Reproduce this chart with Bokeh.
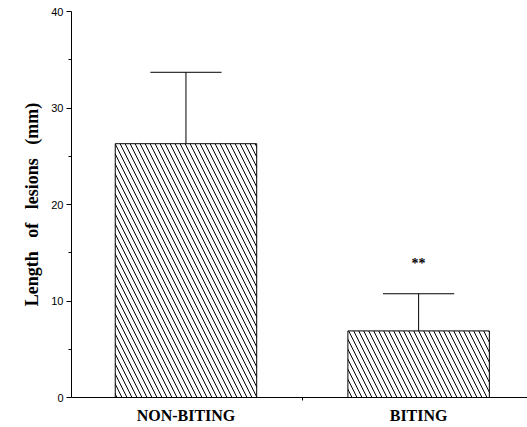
from bokeh.plotting import figure
from bokeh.models import FixedTicker, Range1d, ColumnDataSource
from bokeh.core.properties import value
from bokeh.embed import file_html
from bokeh.resources import INLINE

categories = ["NON-BITING", "BITING"]
means = [26.3, 6.9]
errors = [7.4, 3.85]
marks = ["", "**"]
mark_y = [None, 13.9]
y_ticks = [0, 10, 20, 30, 40]
y_minor = [5, 15, 25, 35]

xs = [1, 2]
src = ColumnDataSource(dict(x=xs, top=means, up=[m + e for m, e in zip(means, errors)]))

p = figure(width=527, height=427, output_backend="svg", toolbar_location=None,
           x_range=Range1d(0.508, 2.468), y_range=Range1d(0, 40),
           min_border_left=71, min_border_right=0, min_border_top=11, min_border_bottom=30)
p.background_fill_color = "white"
p.border_fill_color = "white"
p.outline_line_color = None
p.grid.visible = False

p.vbar(x="x", top="top", width=0.608, bottom=0, source=src,
       fill_color="white", line_color="black", line_width=1,
       hatch_pattern="\\", hatch_scale=10, hatch_weight=1, hatch_color="black")
p.segment(x0="x", y0="top", x1="x", y1="up", source=src, line_color="black", line_width=1)
p.segment(x0=[x - 0.153 for x in xs], y0=src.data["up"], x1=[x + 0.153 for x in xs],
          y1=src.data["up"], line_color="black", line_width=1)
p.text(x=[xs[1]], y=[mark_y[1]], text=[marks[1]], text_align="center", text_baseline="middle",
       text_font=value("Liberation Serif"), text_font_size="14px", text_font_style="bold",
       text_color="black")

ya = p.yaxis[0]
ya.ticker = FixedTicker(ticks=y_ticks, minor_ticks=y_minor)
ya.axis_label = "Length\u00a0\u00a0 of\u00a0\u00a0 lesions\u00a0\u00a0 (mm)"
ya.axis_label_text_font = "Liberation Serif"
ya.axis_label_text_font_style = "bold"
ya.axis_label_text_font_size = "18px"
ya.axis_label_text_color = "black"
ya.axis_label_standoff = 6
ya.major_label_text_font = "Liberation Sans"
ya.major_label_text_font_size = "11px"
ya.major_label_text_color = "black"
ya.major_label_standoff = 3
ya.major_tick_out = 5
ya.major_tick_in = 0
ya.minor_tick_out = 3
ya.minor_tick_in = 0
ya.axis_line_color = "black"
ya.major_tick_line_color = "black"
ya.minor_tick_line_color = "black"

xa = p.xaxis[0]
xa.ticker = FixedTicker(ticks=xs, minor_ticks=[1.5])
xa.major_label_overrides = {1: categories[0], 2: categories[1]}
xa.major_label_text_font = "Liberation Serif"
xa.major_label_text_font_style = "bold"
xa.major_label_text_font_size = "16px"
xa.major_label_text_color = "black"
xa.major_label_standoff = 6
xa.major_tick_line_color = None
xa.major_tick_out = 0
xa.major_tick_in = 0
xa.minor_tick_out = 3
xa.minor_tick_in = 0
xa.minor_tick_line_color = "black"
xa.axis_line_color = "black"

open("out.html", "w").write(file_html(p, INLINE))
